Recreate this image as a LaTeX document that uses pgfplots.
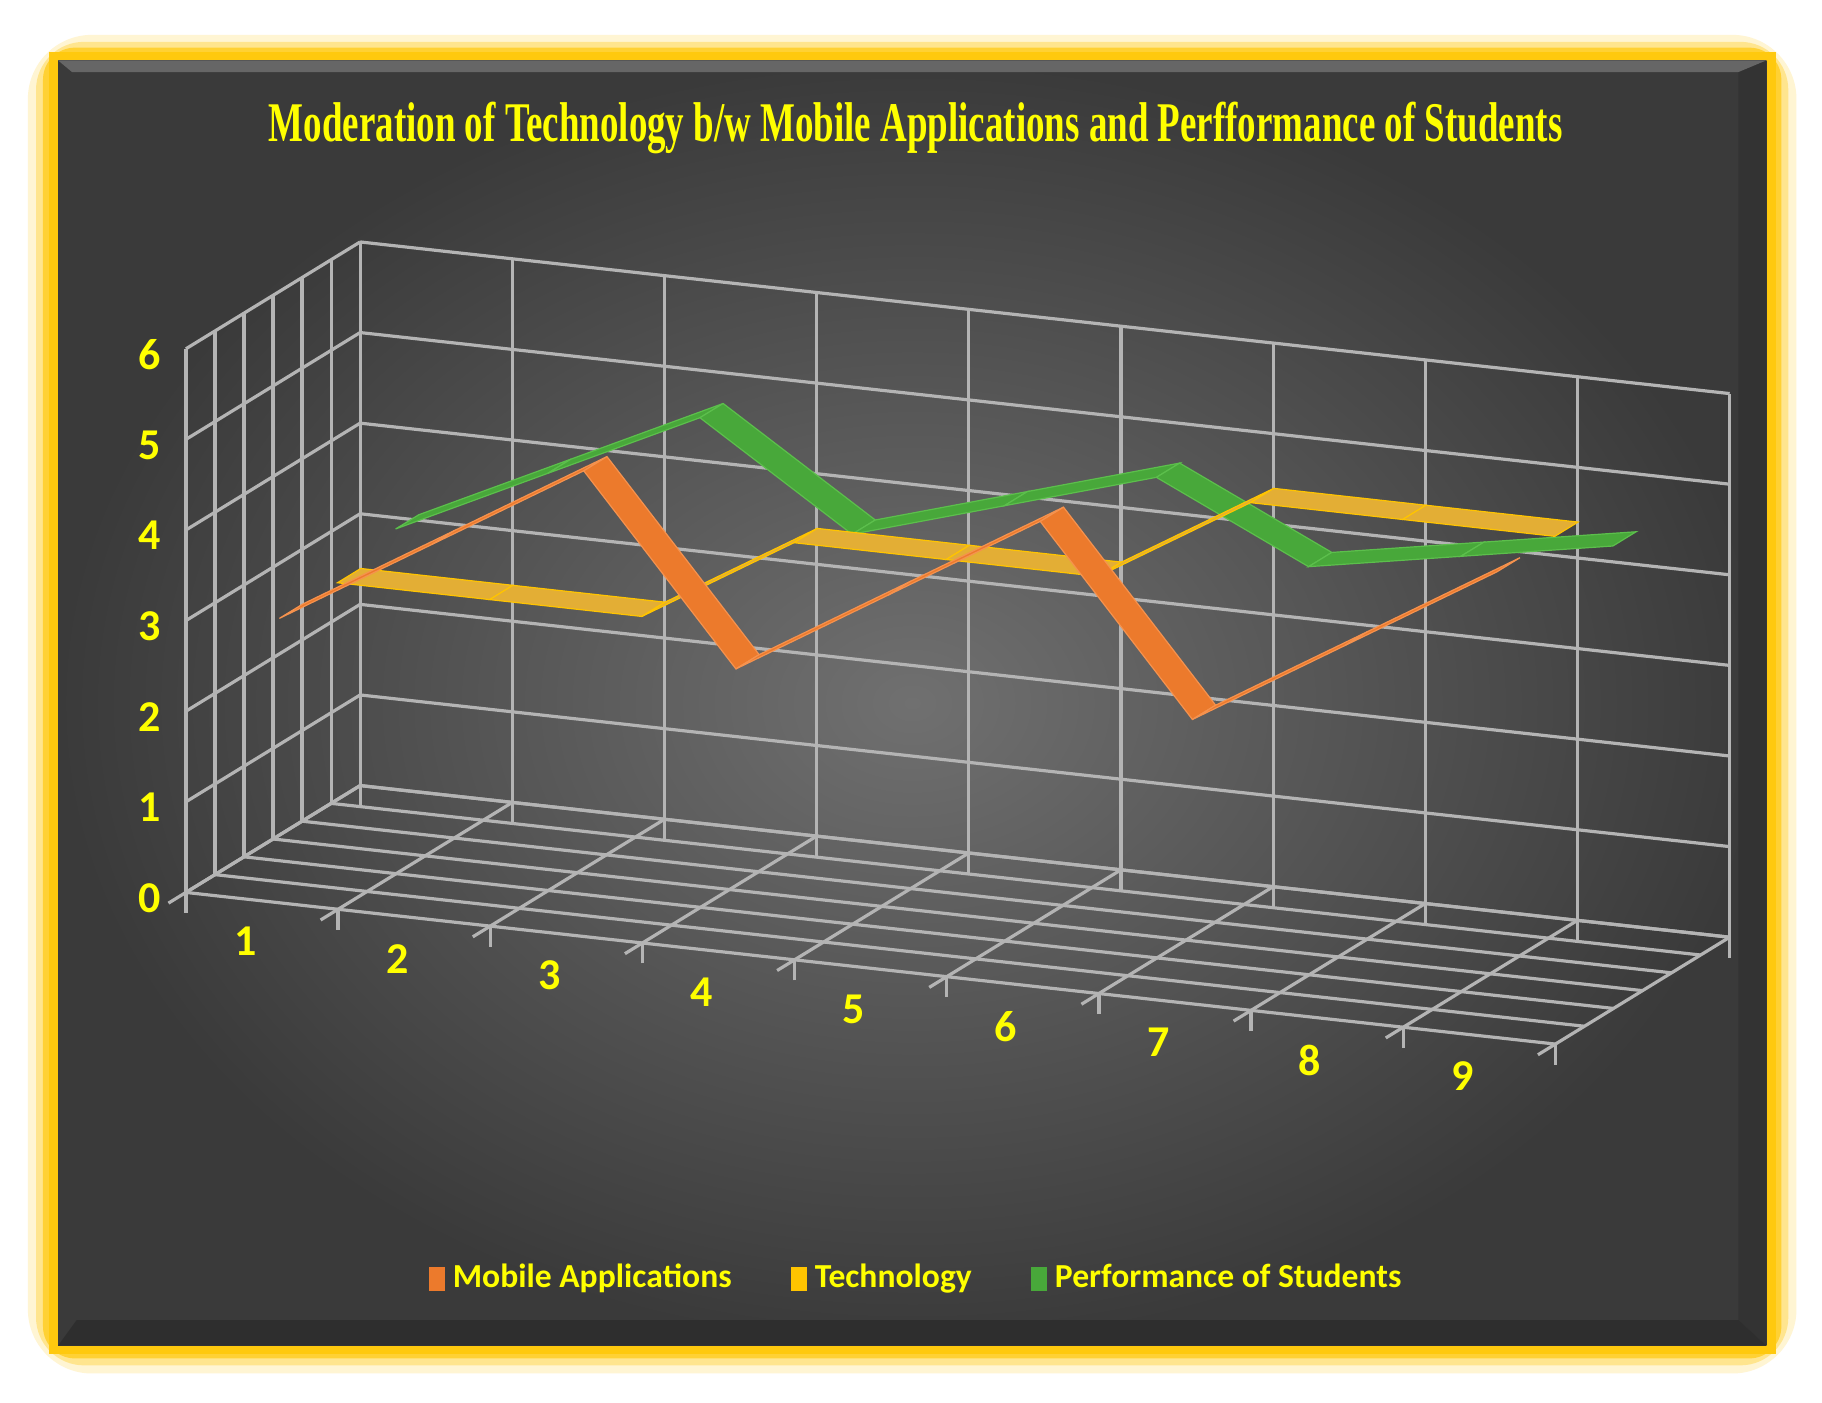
\documentclass[border=0pt]{standalone}
\usepackage{pgfplots}
\pgfplotsset{compat=1.18}
\usepackage{graphicx}
\usepackage{fontspec}
\setmainfont{Carlito}
\newfontfamily\titlefont{Liberation Serif}
\usetikzlibrary{backgrounds,calc}

\definecolor{txtyellow}{HTML}{FFFF00}
\definecolor{framegold}{HTML}{FFC90E}
\definecolor{gridgray}{HTML}{B4B4B4}
\definecolor{panelin}{HTML}{707070}
\definecolor{panelout}{HTML}{3A3A3A}
\definecolor{mobc}{HTML}{EC7A2C}
\definecolor{mobedge}{HTML}{F5924E}
\definecolor{techc}{HTML}{E3AE35}
\definecolor{techedge}{HTML}{FFC400}
\definecolor{perfc}{HTML}{48A83A}
\definecolor{perfedge}{HTML}{5CBF4C}

\begin{document}
\begin{tikzpicture}
\begin{axis}[
  x={(1.3367cm,-0.1480cm)}, y={(0.5102cm,0.3129cm)}, z={(0cm,0.7959cm)},
  xmin=0.5, xmax=9.5, ymin=0, ymax=3, zmin=0, zmax=6,
  clip=false,
  axis line style={draw=none},
  xtick={1,...,9}, minor xtick={0.5,1.5,...,9.5},
  xmajorgrids=false, xminorgrids=true,
  ytick={0,0.5,...,3}, yticklabel=\empty, ymajorgrids=true,
  ztick={0,...,6}, zmajorgrids=true,
  grid style={draw=gridgray, line width=0.8pt},
  minor grid style={draw=gridgray, line width=0.8pt},
  major tick length=0pt, minor tick length=0.18cm,
  tick align=outside, tick pos=left,
  minor tick style={draw=gridgray, line width=0.8pt},
  tick label style={text=txtyellow, font=\bfseries\fontsize{11}{13}\selectfont,
    /pgf/number format/assume math mode=true},
  xticklabel style={yshift=-0.1cm},
  zticklabel style={xshift=-0.1cm},
  point meta min=0, point meta max=1,
  legend style={at={(axis description cs:0.475,-0.292)}, anchor=center,
    draw=none, fill=none, text=txtyellow,
    font=\bfseries\fontsize{8.4}{10}\selectfont,
    /tikz/every even column/.append style={column sep=0.45cm}},
  legend columns=3,
  legend image code/.code={\fill[#1, draw=none] (0cm,-0.11cm) rectangle (0.14cm,0.1cm);},
]
\addlegendimage{fill=mobc}
\addlegendentry{Mobile Applications}
\addlegendimage{fill=techedge}
\addlegendentry{Technology}
\addlegendimage{fill=perfc}
\addlegendentry{Performance of Students}

\coordinate (O) at (axis cs:0.5,0,0);

% Performance of Students (back row)
\addplot3[surf, shader=faceted, faceted color=perfedge, line width=0.3pt,
  colormap={perfmap}{color=(perfc) color=(perfc)}, point meta=0, forget plot]
  table {
x y z
1 2.3 3.2
2 2.3 4.0
3 2.3 4.8
4 2.3 3.7
5 2.3 4.2
6 2.3 4.7
7 2.3 3.9
8 2.3 4.2
9 2.3 4.5

1 2.7 3.2
2 2.7 4.0
3 2.7 4.8
4 2.7 3.7
5 2.7 4.2
6 2.7 4.7
7 2.7 3.9
8 2.7 4.2
9 2.7 4.5
};

% Technology (middle row)
\addplot3[surf, shader=faceted, faceted color=techedge, line width=0.3pt,
  colormap={techmap}{color=(techc) color=(techc)}, point meta=0, forget plot]
  table {
x y z
1 1.3 3
2 1.3 3
3 1.3 3
4 1.3 4
5 1.3 4
6 1.3 4
7 1.3 5
8 1.3 5
9 1.3 5

1 1.7 3
2 1.7 3
3 1.7 3
4 1.7 4
5 1.7 4
6 1.7 4
7 1.7 5
8 1.7 5
9 1.7 5
};

% Mobile Applications (front row)
\addplot3[surf, shader=faceted, faceted color=mobedge, line width=0.3pt,
  colormap={mobmap}{color=(mobc) color=(mobc)}, point meta=0, forget plot]
  table {
x y z
1 0.3 3
2 0.3 4
3 0.3 5
4 0.3 3
5 0.3 4
6 0.3 5
7 0.3 3
8 0.3 4
9 0.3 5

1 0.7 3
2 0.7 4
3 0.7 5
4 0.7 3
5 0.7 4
6 0.7 5
7 0.7 3
8 0.7 4
9 0.7 5
};
\end{axis}

\begin{scope}[on background layer, shift={(O)}, x=0.010204cm, y=-0.010204cm, shift={(-160,-768)}]
  \fill[white] (0,0) rectangle (1568,1207);
  \fill[framegold, opacity=0.18, rounded corners=16pt] (24,30) rectangle (1546,1182);
  \fill[framegold, opacity=0.35, rounded corners=12pt] (31,36) rectangle (1539,1175);
  \fill[framegold, opacity=0.7, rounded corners=8pt] (37,41) rectangle (1533,1169);
  \fill[framegold] (42,45) rectangle (1528,1165);
  \shade[inner color=panelin, outer color=panelout] (50,52) rectangle (1520,1158);
  \fill[black!80] (1496,62) -- (1520,52) -- (1520,1158) -- (1496,1136) -- cycle;
  \fill[black!82] (50,1158) -- (1520,1158) -- (1496,1136) -- (66,1136) -- cycle;
  \fill[black!60] (50,52) -- (1520,52) -- (1496,62) -- (62,62) -- cycle;
  \node[text=txtyellow, font=\titlefont\bfseries\fontsize{14}{16}\selectfont]
    at (788,110) {\scalebox{0.66}[1]{Moderation of Technology b/w Mobile Applications and Perfformance of Students}};
\end{scope}
\end{tikzpicture}
\end{document}
